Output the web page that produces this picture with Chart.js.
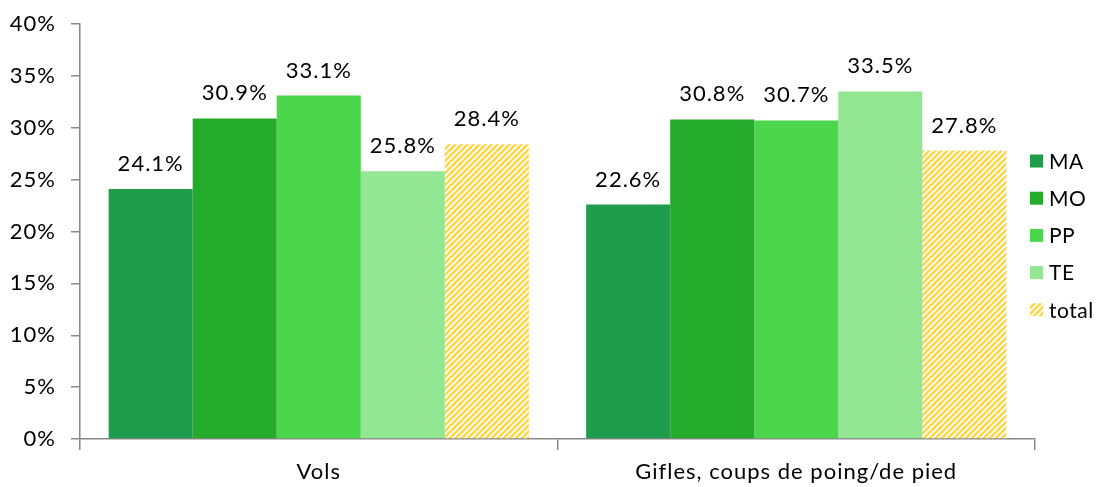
<!DOCTYPE html>
<html>
<head>
<meta charset="utf-8">
<script src="https://cdn.jsdelivr.net/npm/chart.js@4/dist/chart.umd.min.js"></script>
<style>
  html, body { margin: 0; padding: 0; background: #fff; }
  canvas { display: block; }
</style>
</head>
<body>
<canvas id="chart" width="1096" height="487"></canvas>
<script>
  // categories and series (percent)
  const categories = ['Vols', 'Gifles, coups de poing/de pied']
  const seriesNames = ['MA', 'MO', 'PP', 'TE', 'total']
  const valuesMA = [24.1, 22.6]
  const valuesMO = [30.9, 30.8]
  const valuesPP = [33.1, 30.7]
  const valuesTE = [25.8, 33.5]
  const valuesTotal = [28.4, 27.8]
  const yTicks = [0, 5, 10, 15, 20, 25, 30, 35, 40]

  const FONT = 'Lato, "Open Sans", sans-serif'
  const FONT_SIZE = 22

  // hatch for the total series
  function makeHatch() {
    const c = document.createElement('canvas')
    c.width = 6
    c.height = 6
    const x = c.getContext('2d')
    x.fillStyle = '#ffffff'
    x.fillRect(0, 0, 6, 6)
    x.strokeStyle = '#ffd648'
    x.lineWidth = 2.6
    x.beginPath()
    x.moveTo(-1, 7); x.lineTo(7, -1)
    x.moveTo(-4, 4); x.lineTo(4, -4)
    x.moveTo(2, 10); x.lineTo(10, 2)
    x.stroke()
    return x.createPattern(c, 'repeat')
  }
  const hatch = makeHatch()

  const colors = ['#1f9d4c', '#25ab2b', '#4bd64b', '#93e793', hatch]
  const seriesValues = [valuesMA, valuesMO, valuesPP, valuesTE, valuesTotal]

  // the original text is a bit spaced out
  const spacing = {
    id: 'spacing',
    beforeUpdate(chart) { chart.ctx.letterSpacing = '1px' },
    beforeDraw(chart) { chart.ctx.letterSpacing = '1px' }
  }

  // value labels above bars
  const valueLabels = {
    id: 'valueLabels',
    afterDatasetsDraw(chart) {
      const ctx = chart.ctx
      ctx.save()
      ctx.font = FONT_SIZE + 'px ' + FONT
      ctx.fillStyle = '#000'
      ctx.textAlign = 'center'
      ctx.textBaseline = 'alphabetic'
      chart.data.datasets.forEach((ds, i) => {
        chart.getDatasetMeta(i).data.forEach((bar, j) => {
          ctx.fillText(ds.data[j].toFixed(1) + '%', bar.x, bar.y - 18)
        })
      })
      ctx.restore()
    }
  }

  // legend at the right, drawn from the datasets
  const sideLegend = {
    id: 'sideLegend',
    afterDraw(chart) {
      const ctx = chart.ctx
      ctx.save()
      ctx.font = '21px ' + FONT
      ctx.letterSpacing = '0.5px'
      ctx.textBaseline = 'middle'
      chart.data.datasets.forEach((ds, i) => {
        const y = 161 + i * 37.2
        ctx.fillStyle = ds.backgroundColor
        ctx.fillRect(1030, y - 6.5, 13, 13)
        ctx.fillStyle = '#000'
        ctx.fillText(ds.label, 1049, y + 1)
      })
      ctx.restore()
    }
  }

  new Chart(document.getElementById('chart'), {
    type: 'bar',
    data: {
      labels: categories,
      datasets: seriesNames.map((name, i) => ({
        label: name,
        data: seriesValues[i],
        backgroundColor: colors[i],
        borderWidth: 0,
        barPercentage: 1,
        categoryPercentage: 0.88
      }))
    },
    options: {
      responsive: false,
      animation: false,
      layout: { padding: { top: 24, right: 61, left: 0, bottom: 0 } },
      plugins: {
        legend: { display: false },
        tooltip: { enabled: false }
      },
      scales: {
        x: {
          afterFit: (scale) => { scale.height = 48 },
          grid: {
            offset: true,
            drawOnChartArea: false,
            tickLength: 11,
            color: '#888',
            lineWidth: 1.5
          },
          border: { color: '#888', width: 1.5 },
          ticks: { color: '#000', font: { family: FONT, size: FONT_SIZE }, padding: 9 }
        },
        y: {
          min: 0,
          max: 40,
          afterFit: (scale) => {
            scale.width = 80
            scale.paddingTop = 0
          },
          afterBuildTicks: (scale) => { scale.ticks = yTicks.map(v => ({ value: v })) },
          grid: {
            drawOnChartArea: false,
            tickLength: 9,
            color: '#888',
            lineWidth: 1.5
          },
          border: { color: '#888', width: 1.5 },
          ticks: {
            color: '#000',
            font: { family: FONT, size: FONT_SIZE },
            padding: 15,
            callback: (v) => v + '%'
          }
        }
      }
    },
    plugins: [spacing, valueLabels, sideLegend]
  })
</script>
</body>
</html>
